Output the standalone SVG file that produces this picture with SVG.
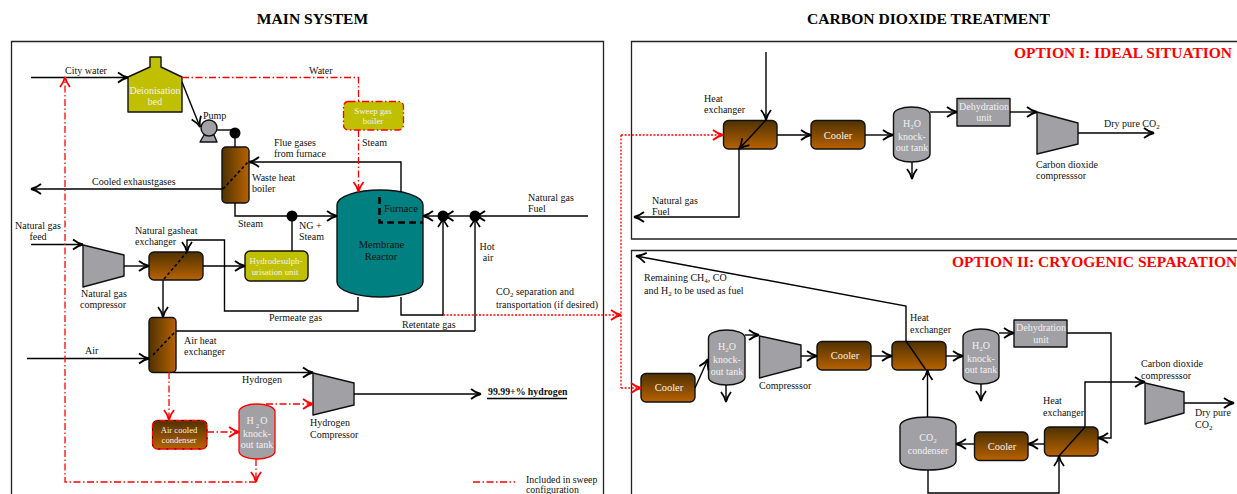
<svg xmlns="http://www.w3.org/2000/svg" width="1237" height="494" viewBox="0 0 1237 494">
<style>
text{font-family:"Liberation Serif","Times New Roman",serif;font-size:10px;fill:#111}
.w{fill:#f2f2f2}.m{text-anchor:middle}
.sm{font-size:8.800px}.s9{font-size:8.600px}
.t{font-size:15.600px;font-weight:bold;text-anchor:middle;fill:#000}
.o{font-size:15.500px;font-weight:bold;fill:#f00}
.n{stroke:#111;stroke-width:1.4;stroke-linejoin:round}
.g{fill:#a1a0a5}.y{fill:#c0c000}.hv{fill:url(#hv)}.hh{fill:url(#hh)}
.c{fill:none;stroke:#000;stroke-width:1.400;stroke-linejoin:miter}
.a{marker-end:url(#ab)}
.r{fill:none;stroke:#f00;stroke-width:1.300;stroke-dasharray:7 2.500 1.500 2.500}
.ra{marker-end:url(#ar)}
.d{fill:none;stroke:#f00;stroke-width:1.300;stroke-dasharray:2 1.600}
.rb{stroke:#f00;stroke-width:1.300}
.dash{fill:none;stroke:#000;stroke-width:1.600;stroke-dasharray:3 2.500}
.dot{fill:#000;stroke:none}
.s{font-size:7px}
</style>
<defs>
<linearGradient id="hv" x1="0" y1="0" x2="0" y2="1"><stop offset="0" stop-color="#4f3200"/><stop offset="1" stop-color="#b86200"/></linearGradient>
<linearGradient id="hh" x1="0" y1="0" x2="1" y2="0"><stop offset="0" stop-color="#4f3200"/><stop offset="1" stop-color="#b86200"/></linearGradient>
<marker id="ab" markerUnits="userSpaceOnUse" markerWidth="14" markerHeight="14" viewBox="-12 -7 14 14" refX="0" refY="0" orient="auto"><path d="M-10,-5 Q-5,-1 0,0 Q-5,1 -10,5" fill="none" stroke="#000" stroke-width="1.800"/></marker>
<marker id="ar" markerUnits="userSpaceOnUse" markerWidth="14" markerHeight="14" viewBox="-12 -7 14 14" refX="0" refY="0" orient="auto"><path d="M-10,-5 Q-5,-1 0,0 Q-5,1 -10,5" fill="none" stroke="#f00" stroke-width="1.800"/></marker>
</defs>
<rect width="1237" height="494" fill="#fff"/>
<text class="t" x="312.500" y="24">MAIN SYSTEM</text>
<text class="t" x="928.500" y="24">CARBON DIOXIDE TREATMENT</text>
<g id="frames" fill="none" stroke="#222" stroke-width="1.300">
<path d="M11.500,496V41.500H603.500V496"/>
<path d="M1240,41.500H631.500V239H1240"/>
<path d="M1240,250.500H631.500V496"/>
</g>
<text class="o" x="1014" y="58">OPTION I: IDEAL SITUATION</text>
<text class="o" x="952" y="267">OPTION II: CRYOGENIC SEPARATION</text>

<g id="deionisation-bed"><path class="n y" d="M128,77L150,67V57H161V67L182,77V112H128Z"/><text class="w m" x="155" y="94">Deionisation</text><text class="w m" x="155" y="105">bed</text></g>
<g id="pump"><path class="n g" d="M204,135H214L217,142H200Z"/><circle class="n g" cx="209" cy="128" r="8"/><text x="203" y="119">Pump</text></g>
<g id="sweep-boiler"><rect class="y rb" x="343.500" y="101.500" width="60" height="28.500" rx="5" stroke-dasharray="7 2.500 1.500 2.500"/><text class="w m sm" x="373" y="114">Sweep gas</text><text class="w m sm" x="373" y="124">boiler</text></g>
<g id="waste-heat-boiler"><rect class="n hh" x="222" y="147" width="27" height="56" rx="4"/><path class="dash" d="M223,189L248,162"/><text x="252" y="181">Waste heat</text><text x="252" y="192">boiler</text></g>
<g id="reactor"><path class="n" fill="#008080" d="M337,205C337,196 358,190 380,190C402,190 423,196 423,205V282C423,291 402,297 380,297C358,297 337,291 337,282Z"/><path fill="none" stroke="#000" stroke-width="2.600" stroke-dasharray="7 4" d="M379.500,197V222.500H423"/><text x="384" y="211.500" style="font-size:10.500px">Furnace</text><text class="m" x="381.500" y="247.500" style="font-size:10.500px">Membrane</text><text class="m" x="381" y="259.500" style="font-size:10.500px">Reactor</text></g>
<g id="ng-compressor"><path class="n g" d="M83,245L124,255V276L83,287Z"/><text class="m" x="104" y="297">Natural gas</text><text class="m" x="103" y="308">compressor</text></g>
<g id="ng-exchanger"><rect class="n hv" x="149" y="252" width="54" height="28" rx="5"/><path class="dash" d="M164,279L187,252"/><text x="135" y="234">Natural gasheat</text><text x="135" y="245">exchanger</text></g>
<g id="hds"><rect class="n y" x="245" y="251" width="63" height="30" rx="5"/><text class="w m sm" x="276" y="264">Hydrodesulph-</text><text class="w m sm" x="275" y="275">urisation unit</text></g>
<g id="air-exchanger"><rect class="n hh" x="149" y="317.500" width="27" height="55" rx="4"/><path class="dash" d="M153,355L174,333"/><text x="184" y="344">Air heat</text><text x="184" y="355">exchanger</text></g>
<g id="air-condenser"><rect class="hv rb" x="152.500" y="420.500" width="54.500" height="28.500" rx="5"/><rect fill="none" stroke="#111" stroke-width="1" stroke-dasharray="2 6" x="152.500" y="420.500" width="54.500" height="28.500" rx="5"/><text class="w m s9" x="179" y="433">Air cooled</text><text class="w m s9" x="179" y="443">condenser</text></g>
<g id="ko-red"><path class="g rb" d="M239,412C239,407 248,404 257,404C266,404 275,407 275,412V451C275,456 266,459 257,459C248,459 239,456 239,451Z"/><text class="w m" x="257" y="424">H<tspan class="s w" dx="2" dy="4">2</tspan><tspan dx="1" dy="-4">O</tspan></text><text class="w m" x="257" y="437">knock-</text><text class="w m" x="257" y="448">out tank</text></g>
<g id="h2-compressor"><path class="n g" d="M313,373L354,383V405L313,415Z"/><text x="310" y="426">Hydrogen</text><text x="310" y="438">Compressor</text></g>

<g id="o1-exchanger"><rect class="n hv" x="723.500" y="120.500" width="53.500" height="28.500" rx="5"/><text x="704" y="102">Heat</text><text x="704" y="113">exchanger</text></g>
<g id="o1-cooler"><rect class="n hv" x="811" y="120.500" width="54" height="28.500" rx="5"/><text class="w m" x="838" y="138.500" style="font-size:10.500px">Cooler</text></g>
<g id="o1-ko"><path class="n g" d="M893.500,115C893.500,110 902,107 911.500,107C921,107 930,110 930,115V154C930,159 921,162 911.500,162C902,162 893.500,159 893.500,154Z"/><text class="w m" x="912" y="127">H<tspan class="s w" dy="2">2</tspan><tspan dy="-2">O</tspan></text><text class="w m" x="912" y="140">knock-</text><text class="w m" x="912" y="151">out tank</text></g>
<g id="o1-dehydration"><rect class="n g" x="957" y="98.500" width="53" height="27.500"/><text class="w m" x="984" y="110">Dehydration</text><text class="w m" x="984" y="121">unit</text></g>
<g id="o1-compressor"><path class="n g" d="M1037,112L1078,123V144L1037,154Z"/><text x="1036" y="168">Carbon dioxide</text><text x="1036" y="179">compresssor</text></g>

<g id="o2-cooler1"><rect class="n hv" x="641" y="373.500" width="54" height="28.500" rx="5"/><text class="w m" x="669" y="391" style="font-size:10.500px">Cooler</text></g>
<g id="o2-ko1"><path class="n g" d="M708.500,338C708.500,333 717,330 726.500,330C736,330 745,333 745,338V377C745,382 736,385 726.500,385C717,385 708.500,382 708.500,377Z"/><text class="w m" x="727" y="350">H<tspan class="s w" dy="2">2</tspan><tspan dy="-2">O</tspan></text><text class="w m" x="727" y="363">knock-</text><text class="w m" x="727" y="375">out tank</text></g>
<g id="o2-compressor1"><path class="n g" d="M759.500,336L801,345V367L759.500,378Z"/><text x="759" y="389">Compresssor</text></g>
<g id="o2-cooler2"><rect class="n hv" x="817" y="341.500" width="54" height="28.500" rx="5"/><text class="w m" x="845" y="359" style="font-size:10.500px">Cooler</text></g>
<g id="o2-exchanger1"><rect class="n hv" x="892" y="341.500" width="54" height="28.500" rx="5"/><text x="910" y="321">Heat</text><text x="910" y="333">exchanger</text></g>
<g id="o2-ko2"><path class="n g" d="M963,337C963,332 972,329 981,329C990,329 999,332 999,337V376C999,381 990,384 981,384C972,384 963,381 963,376Z"/><text class="w m" x="981" y="349">H<tspan class="s w" dy="2">2</tspan><tspan dy="-2">O</tspan></text><text class="w m" x="981" y="362">knock-</text><text class="w m" x="981" y="373">out tank</text></g>
<g id="o2-dehydration"><rect class="n g" x="1014" y="320" width="53" height="27"/><text class="w m" x="1041" y="331">Dehydration</text><text class="w m" x="1041" y="343">unit</text></g>
<g id="o2-compressor2"><path class="n g" d="M1145,383L1184,392V413L1145,424Z"/><text x="1141" y="367">Carbon dioxide</text><text x="1141" y="379">compresssor</text></g>
<g id="o2-exchanger2"><rect class="n hv" x="1044.500" y="427" width="53.500" height="29" rx="5"/><text x="1043" y="404">Heat</text><text x="1043" y="416">exchanger</text></g>
<g id="o2-cooler3"><rect class="n hv" x="974.500" y="432" width="53.500" height="28.500" rx="5"/><text class="w m" x="1002" y="450" style="font-size:10.500px">Cooler</text></g>
<g id="co2-condenser"><path class="n g" d="M900,426C900,420 913,417 928,417C943,417 956,420 956,426V461C956,467 943,470 928,470C913,470 900,467 900,461Z"/><text class="w m" x="928" y="441">CO<tspan class="s w" dy="2">2</tspan></text><text class="w m" x="928" y="454">condenser</text></g>

<g id="connectors">
<path class="c a" d="M31,77.500H128"/>
<path class="c a" d="M182,82L200,127"/>
<path class="c" d="M217,130H235"/><path class="c" d="M235,133V147"/>
<path class="c a" d="M401,192V162H249"/>
<path class="c a" d="M223,189H31"/>
<path class="c" d="M235,203V216H292"/>
<path class="c a" d="M292,216H337"/>
<path class="c" d="M292,216V251"/>
<path class="c a" d="M475,216H443.500"/><path class="c a" d="M443,216H423"/><path class="c a" d="M588,216H475"/>
<path class="c a" d="M401,297V315H443V217"/>
<path class="c a" d="M475,331V217"/>
<path class="c a" d="M358,297V311H224.500V240H187V252"/>
<path class="c a" d="M31,244.500H83"/>
<path class="c a" d="M124,266H149"/>
<path class="c a" d="M203,266H245"/>
<path class="c a" d="M163,280V317"/>
<path class="c a" d="M27,358.500H149"/>
<path class="c" d="M176,331H475"/>
<path class="c a" d="M173,372.500H313"/>
<path class="c a" d="M354,394H481"/>
<path class="c" d="M487,398.500H567"/>
<path class="r" d="M182,77.500H358.500V101"/>
<path class="r ra" d="M358.500,130V192"/>
<path class="r ra" d="M169,372V420"/>
<path class="r ra" d="M207,432H239"/>
<path class="r ra" d="M266,404H313"/>
<path class="r ra" d="M256,459V482"/>
<path class="r ra" d="M256,482H65V77"/>
<path class="r" d="M473,482H515" style="stroke-width:1.500"/>
<path class="d ra" d="M443,315H621"/>
<path class="d" d="M621,135V388"/>
<path class="d ra" d="M621,135H723"/>
<path class="d ra" d="M621,388H641"/>
<path class="c a" d="M766,52V120"/>
<path class="c a" d="M766,120L739,149"/>
<path class="c a" d="M739,149V217H634"/>
<path class="c a" d="M777,135H811"/>
<path class="c a" d="M865,135H893"/>
<path class="c a" d="M912,162V179"/>
<path class="c a" d="M930,112H957"/>
<path class="c a" d="M1010,112H1037"/>
<path class="c a" d="M1078,133H1154"/>
<path class="c a" d="M695,388L708,359"/>
<path class="c a" d="M726,385V402"/>
<path class="c a" d="M745,335H759"/>
<path class="c a" d="M801,356H817"/>
<path class="c a" d="M871,356H892"/>
<path class="c a" d="M946,356H963"/>
<path class="c a" d="M906,341V306L636,256"/>
<path class="c" d="M906,341L926,370"/>
<path class="c a" d="M981,384V401"/>
<path class="c a" d="M999,333H1014"/>
<path class="c a" d="M1067,333H1111V438H1098"/>
<path class="c" d="M1085,427L1059,456"/>
<path class="c a" d="M1085,427V382H1145"/>
<path class="c a" d="M1184,403H1234"/>
<path class="c a" d="M1044,444H1028"/>
<path class="c a" d="M974,444H956"/>
<path class="c a" d="M927.500,417V370"/>
<path class="c a" d="M928,470V493H1059V456"/>
<circle class="dot" cx="235" cy="133" r="5.500"/>
<circle class="dot" cx="292" cy="216" r="5.500"/>
<circle class="dot" cx="443" cy="216" r="5.500"/>
<circle class="dot" cx="475" cy="216" r="5.500"/>
</g>

<g id="labels">
<text x="65" y="74">City water</text>
<text x="309" y="74">Water</text>
<text x="362" y="146">Steam</text>
<text x="274" y="146">Flue gases</text><text x="274" y="157">from furnace</text>
<text x="92" y="185">Cooled exhaustgases</text>
<text class="m" x="38" y="229">Natural gas</text><text class="m" x="38" y="240">feed</text>
<text x="238" y="227">Steam</text>
<text x="299" y="229">NG +</text><text x="299" y="240">Steam</text>
<text x="528" y="201">Natural gas</text><text x="528" y="212">Fuel</text>
<text class="m" x="487" y="250">Hot</text><text class="m" x="488" y="261">air</text>
<text x="496" y="295">CO<tspan class="s" dy="2">2</tspan><tspan dy="-2"> separation and</tspan></text>
<text x="496" y="308">transportation (if desired)</text>
<text x="269" y="321">Permeate gas</text>
<text x="402" y="328">Retentate gas</text>
<text x="85" y="354">Air</text>
<text x="242" y="383">Hydrogen</text>
<text x="488" y="395" font-weight="bold" style="font-size:9.800px">99.99+% hydrogen</text>
<text x="526" y="483" style="font-size:9.800px">Included in sweep</text><text x="526" y="493" style="font-size:9.800px">configuration</text>
<text x="652" y="204">Natural gas</text><text x="652" y="215">Fuel</text>
<text x="1104" y="127">Dry pure CO<tspan class="s" dy="2">2</tspan></text>
<text x="644" y="281">Remaining CH<tspan class="s" dy="2">4</tspan><tspan dy="-2">, CO</tspan></text>
<text x="644" y="294">and H<tspan class="s" dy="2">2</tspan><tspan dy="-2"> to be used as fuel</tspan></text>
<text x="1195" y="416">Dry pure</text><text x="1195" y="428">CO<tspan class="s" dy="2">2</tspan></text>
</g>
</svg>
